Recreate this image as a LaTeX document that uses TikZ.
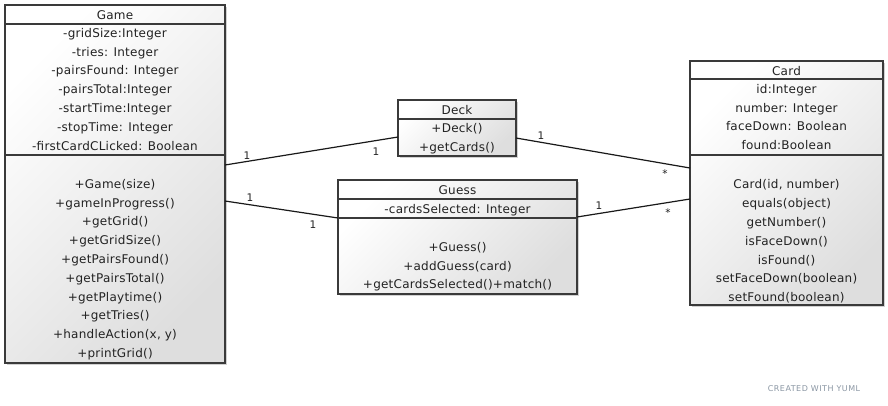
\documentclass[tikz,border=0pt]{standalone}
\usepackage{fontspec}
\setmainfont{DejaVu Sans}
\usetikzlibrary{shadows,calc}

\definecolor{umlline}{HTML}{3A3A3A}
\definecolor{umltext}{HTML}{222222}
\definecolor{creditgray}{HTML}{8A96A3}

\tikzset{
  classbox/.style={draw=umlline, line width=1.2pt, anchor=north west,
    inner sep=0pt, outer sep=0pt,
    top color=white, bottom color=black!13, shading angle=45,
    drop shadow={shadow xshift=1.5pt, shadow yshift=-1.5pt, opacity=0.18, fill=black}},
  divider/.style={draw=umlline, line width=1.2pt},
  member/.style={font=\fontsize{12}{14}\selectfont\addfontfeature{LetterSpace=2},
    text=umltext, inner sep=0pt, anchor=base},
  mult/.style={font=\fontsize{10.5}{12}\selectfont, text=umltext, inner sep=0pt},
  assoc/.style={draw=black!90, line width=1.2pt},
}

% rows of a compartment: name prefix, centre x, centre y of first row, list of rows
\newcommand{\umlrows}[4]{%
  \foreach \t [count=\i from 0] in {#4}
    \node[member] (#1\i) at (#2, {#3+4.3+\i*18.8}) {\t};}

\begin{document}
\begin{tikzpicture}[x=1pt, y={(0pt,-1pt)}]
  \useasboundingbox (0,0) rectangle (888,405);

  % ---- class boxes
  \node[classbox, minimum width=220pt, minimum height=358pt] (game)  at (5,5)    {};
  \node[classbox, minimum width=118pt, minimum height=56pt]  (deck)  at (398,100) {};
  \node[classbox, minimum width=239pt, minimum height=114pt] (guess) at (338,180) {};
  \node[classbox, minimum width=193pt, minimum height=244pt] (card)  at (690,61)  {};

  % ---- compartment dividers
  \draw[divider] (game.west |- 0,24)   -- (game.east |- 0,24);
  \draw[divider] (game.west |- 0,155)  -- (game.east |- 0,155);
  \draw[divider] (deck.west |- 0,119)  -- (deck.east |- 0,119);
  \draw[divider] (guess.west |- 0,199) -- (guess.east |- 0,199);
  \draw[divider] (guess.west |- 0,218) -- (guess.east |- 0,218);
  \draw[divider] (card.west |- 0,79)   -- (card.east |- 0,79);
  \draw[divider] (card.west |- 0,155)  -- (card.east |- 0,155);

  % ---- Game
  \node[member] (gametitle) at (game.north |- 0,19.3) {Game};
  \umlrows{gameattr}{115}{33}{-gridSize:Integer, -tries: Integer, -pairsFound: Integer,
    -pairsTotal:Integer, -startTime:Integer, -stopTime: Integer, -firstCardCLicked: Boolean}
  \umlrows{gameop}{115}{184}{+Game(size), +gameInProgress(), +getGrid(), +getGridSize(),
    +getPairsFound(), +getPairsTotal(), +getPlaytime(), +getTries(),
    {+handleAction(x, y)}, +printGrid()}

  % ---- Deck
  \node[member] (decktitle) at (deck.north |- 0,114.3) {Deck};
  \umlrows{deckop}{457}{128.5}{+Deck(), +getCards()}

  % ---- Guess
  \node[member] (guesstitle) at (guess.north |- 0,194.3) {Guess};
  \umlrows{guessattr}{457.5}{209}{-cardsSelected: Integer}
  \umlrows{guessop}{457.5}{247}{+Guess(), +addGuess(card), +getCardsSelected()+match()}

  % ---- Card
  \node[member] (cardtitle) at (card.north |- 0,75.3) {Card};
  \umlrows{cardattr}{786.5}{89}{id:Integer, number: Integer, faceDown: Boolean, found:Boolean}
  \umlrows{cardop}{786.5}{184.5}{{Card(id, number)}, equals(object), getNumber(),
    isFaceDown(), isFound(), setFaceDown(boolean), setFound(boolean)}

  % ---- associations
  \draw[assoc] (game.east |- 0,165)  -- (deck.west |- 0,137);
  \draw[assoc] (game.east |- 0,201)  -- (guess.west |- 0,218);
  \draw[assoc] (deck.east |- 0,138)  -- (card.west |- 0,168);
  \draw[assoc] (guess.east |- 0,217) -- (card.west |- 0,199);

  % ---- multiplicities
  \node[mult] (m1) at (247,156) {1};
  \node[mult] (m2) at (376,152) {1};
  \node[mult] (m3) at (250,198) {1};
  \node[mult] (m4) at (313,225) {1};
  \node[mult] (m5) at (541,136) {1};
  \node[mult] (m6) at (665,174) {*};
  \node[mult] (m7) at (599,206) {1};
  \node[mult] (m8) at (668,213) {*};

  % ---- credit line
  \node[font=\fontsize{8}{9}\selectfont\addfontfeature{LetterSpace=6}, text=creditgray,
    inner sep=0pt] (credit) at (814,389) {CREATED WITH YUML};
\end{tikzpicture}
\end{document}
